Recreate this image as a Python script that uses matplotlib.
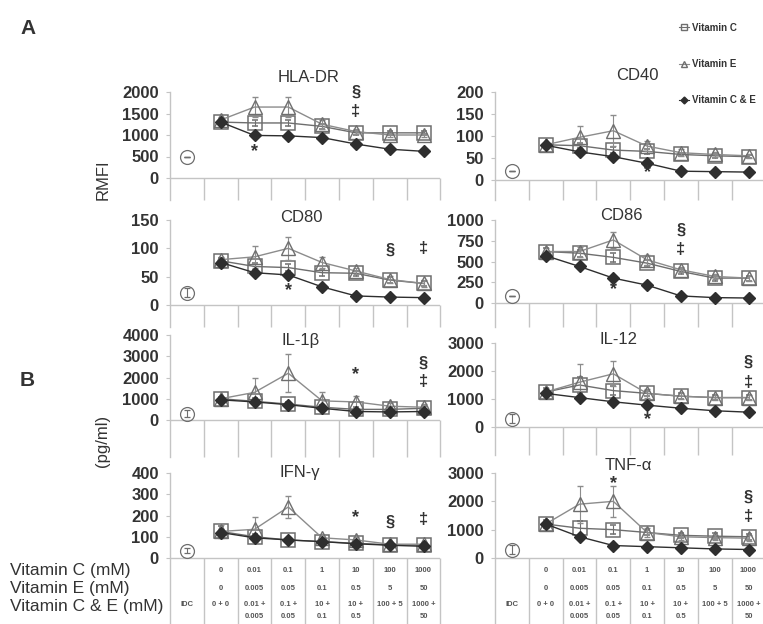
import numpy as np
import matplotlib
matplotlib.use('Agg')
import matplotlib.pyplot as plt
from matplotlib.lines import Line2D

plt.rcParams['font.family'] = ['Liberation Sans', 'DejaVu Sans']

# treatment columns (1..7), IDC control sits in column 0
cols = np.arange(1, 8) + 0.5

# HLA-DR (RMFI)
hla_c = [1300, 1280, 1280, 1200, 1050, 1050, 1050]
hla_c_err = [60, 80, 80, 60, 50, 40, 40]
hla_e = [1350, 1650, 1650, 1250, 1080, 1000, 1000]
hla_e_err = [60, 230, 230, 100, 60, 50, 50]
hla_ce = [1300, 990, 980, 940, 790, 670, 620]
hla_idc = (500, 0)

# CD40
cd40_c = [80, 78, 68, 65, 58, 55, 53]
cd40_c_err = [5, 6, 6, 5, 4, 4, 4]
cd40_e = [80, 97, 112, 77, 62, 58, 55]
cd40_e_err = [5, 25, 35, 12, 8, 6, 5]
cd40_ce = [79, 64, 53, 38, 20, 19, 18]
cd40_idc = (21, 0)

# CD80
cd80_c = [78, 68, 66, 57, 56, 44, 38]
cd80_c_err = [5, 6, 6, 5, 4, 5, 5]
cd80_e = [80, 85, 100, 75, 60, 45, 38]
cd80_e_err = [5, 20, 20, 10, 6, 6, 6]
cd80_ce = [75, 57, 53, 32, 16, 14, 13]
cd80_idc = (22, 8)

# CD86
cd86_c = [620, 600, 550, 480, 380, 300, 300]
cd86_c_err = [40, 40, 50, 40, 30, 30, 30]
cd86_e = [620, 620, 760, 520, 400, 320, 300]
cd86_e_err = [40, 60, 100, 60, 30, 30, 30]
cd86_ce = [570, 440, 300, 215, 85, 65, 60]
cd86_idc = (90, 0)

# IL-1beta (pg/ml)
il1_c = [1000, 880, 750, 600, 500, 500, 550]
il1_c_err = [100, 150, 100, 100, 100, 100, 100]
il1_e = [1000, 1300, 2200, 900, 850, 650, 600]
il1_e_err = [100, 700, 900, 400, 300, 150, 150]
il1_ce = [950, 850, 720, 550, 400, 380, 400]
il1_idc = (300, 150)

# IL-12
il12_c = [1250, 1500, 1300, 1200, 1100, 1050, 1050]
il12_c_err = [150, 300, 150, 100, 100, 100, 100]
il12_e = [1250, 1600, 1900, 1200, 1100, 1050, 1050]
il12_e_err = [150, 650, 450, 150, 100, 100, 100]
il12_ce = [1200, 1050, 900, 780, 670, 580, 530]
il12_idc = (300, 150)

# IFN-gamma
ifn_c = [125, 100, 85, 77, 69, 62, 60]
ifn_c_err = [25, 15, 10, 10, 10, 8, 8]
ifn_e = [125, 135, 240, 95, 85, 65, 65]
ifn_e_err = [30, 60, 50, 15, 15, 10, 10]
ifn_ce = [120, 95, 85, 77, 67, 60, 55]
ifn_idc = (35, 10)

# TNF-alpha
tnf_c = [1200, 1050, 1000, 900, 800, 770, 750]
tnf_c_err = [150, 250, 150, 100, 100, 100, 100]
tnf_e = [1200, 1900, 2000, 900, 750, 720, 700]
tnf_e_err = [150, 650, 550, 150, 100, 100, 100]
tnf_ce = [1200, 750, 440, 400, 360, 320, 300]
tnf_idc = (300, 150)

# significance symbols: (symbol, column, value)
hla_sig = [('*', 2, 605), ('§', 5, 2000), ('‡', 5, 1535)]
cd40_sig = [('*', 4, 16)]
cd80_sig = [('*', 3, 25), ('§', 6, 97), ('‡', 7, 100)]
cd86_sig = [('*', 3, 157), ('§', 5, 880), ('‡', 5, 640)]
il1_sig = [('*', 5, 2115), ('§', 7, 2680), ('‡', 7, 1790)]
il12_sig = [('*', 4, 250), ('§', 7, 2320), ('‡', 7, 1600)]
ifn_sig = [('*', 5, 188), ('§', 6, 170), ('‡', 7, 179)]
tnf_sig = [('*', 3, 2620), ('§', 7, 2150), ('‡', 7, 1450)]

# dose table under the bottom panels
dose_c = ['', '0', '0.01', '0.1', '1', '10', '100', '1000']
dose_e = ['', '0', '0.005', '0.05', '0.1', '0.5', '5', '50']
dose_ce1 = ['IDC', '0 + 0', '0.01 +', '0.1 +', '10 +', '10 +', '100 + 5', '1000 +']
dose_ce2 = ['', '', '0.005', '0.05', '0.1', '0.5', '', '50']

W, H = 763, 624
COLW = 33.8
fig = plt.figure(figsize=(W / 100, H / 100), dpi=100)

GRID = '#c4c4c4'
TXT = '#333333'
C_COL = '#6e6e6e'
E_COL = '#8c8c8c'
CE_COL = '#2e2e2e'


def panel(title, left, top, zero, bottom, ymax, step, title_xy,
          c, c_err, e, e_err, ce, idc, sig):
    ax = fig.add_axes([left / W, 1 - bottom / H, 8 * COLW / W, (bottom - top) / H])
    scale = ymax / (zero - top)
    ymin = -(bottom - zero) * scale
    ax.set_xlim(0, 8)
    ax.set_ylim(ymin, ymax)
    for s in ['top', 'right', 'bottom']:
        ax.spines[s].set_visible(False)
    ax.spines['left'].set_color(GRID)
    ax.spines['left'].set_linewidth(1.0)
    ax.set_xticks([])
    ax.set_yticks(np.arange(0, ymax + 1, step))
    ax.tick_params(axis='y', length=3, width=0.8, color=GRID, pad=5,
                   labelsize=12, labelcolor=TXT)
    for lab in ax.get_yticklabels():
        lab.set_fontweight('bold')
    ax.patch.set_alpha(0)

    ax.axhline(0, color=GRID, lw=1.0, zorder=1)
    ax.vlines(np.arange(1, 9), ymin, 0, color=GRID, lw=1.0, zorder=1, clip_on=False)

    ax.errorbar(cols, c, yerr=c_err, color=C_COL, lw=1.0, marker='s', ms=10.5,
                mfc='none', mec=C_COL, mew=1.1, capsize=2.5, elinewidth=0.8,
                clip_on=False, zorder=3)
    ax.errorbar(cols, e, yerr=e_err, color=E_COL, lw=1.0, marker='^', ms=10,
                mfc='none', mec=C_COL, mew=1.0, capsize=2.5, elinewidth=0.8,
                clip_on=False, zorder=4)
    ax.plot(cols, ce, color=CE_COL, lw=1.0, marker='D', ms=6, mfc=CE_COL,
            mec=CE_COL, clip_on=False, zorder=5)

    ax.errorbar([0.5], [idc[0]], yerr=[idc[1]], color=C_COL, marker='o', ms=10,
                mfc='none', mec=C_COL, mew=0.9, capsize=2.5, elinewidth=0.8,
                clip_on=False, zorder=3)
    if idc[1] == 0:
        ax.plot([0.5], [idc[0]], marker='_', ms=4, color=C_COL, clip_on=False)

    for sym, col, val in sig:
        size = 13 if sym == '*' else 12
        ax.text(col + 0.5, val, sym, ha='center', va='center', fontsize=size,
                color=TXT, fontweight='bold', clip_on=False, zorder=6)

    tx, ty = title_xy
    ax.text(tx, (zero - ty) * scale, title, ha='center', va='center',
            fontsize=12, color=TXT)
    return ax, zero, scale


L, R = 170, 495
panel('HLA-DR', L, 92, 178, 200, 2000, 500, (4.1, 77),
      hla_c, hla_c_err, hla_e, hla_e_err, hla_ce, hla_idc, hla_sig)
panel('CD40', R, 92, 180, 200, 200, 50, (4.2, 76),
      cd40_c, cd40_c_err, cd40_e, cd40_e_err, cd40_ce, cd40_idc, cd40_sig)
panel('CD80', L, 220, 305, 327, 150, 50, (3.9, 217),
      cd80_c, cd80_c_err, cd80_e, cd80_e_err, cd80_ce, cd80_idc, cd80_sig)
panel('CD86', R, 220, 303, 327, 1000, 250, (3.75, 215),
      cd86_c, cd86_c_err, cd86_e, cd86_e_err, cd86_ce, cd86_idc, cd86_sig)
panel('IL-1β', L, 335, 420, 457, 4000, 1000, (3.85, 340),
      il1_c, il1_c_err, il1_e, il1_e_err, il1_ce, il1_idc, il1_sig)
panel('IL-12', R, 343, 427, 455, 3000, 1000, (3.65, 340),
      il12_c, il12_c_err, il12_e, il12_e_err, il12_ce, il12_idc, il12_sig)
bl = panel('IFN-γ', L, 473, 558, 624, 400, 100, (3.85, 473),
           ifn_c, ifn_c_err, ifn_e, ifn_e_err, ifn_ce, ifn_idc, ifn_sig)
br = panel('TNF-α', R, 473, 558, 624, 3000, 1000, (3.95, 466),
           tnf_c, tnf_c_err, tnf_e, tnf_e_err, tnf_ce, tnf_idc, tnf_sig)

# dose table
for ax, zero, scale in (bl, br):
    for i in range(8):
        x = i + 0.5
        for py, lab in ((570, dose_c[i]), (588, dose_e[i]),
                        (605, dose_ce1[i]), (617, dose_ce2[i])):
            if lab:
                ax.text(x, (zero - py) * scale, lab, ha='center', va='center',
                        fontsize=5.5, fontweight='bold', color='#555555',
                        clip_on=False)

for py, lab in ((570, 'Vitamin C (mM)'), (588, 'Vitamin E (mM)'),
                (606, 'Vitamin C & E (mM)')):
    fig.text(10 / W, 1 - py / H, lab, ha='left', va='center', fontsize=12.5,
             color=TXT)

fig.text(103 / W, 1 - 180 / H, 'RMFI', rotation=90, ha='center', va='center',
         fontsize=12, color=TXT)
fig.text(103 / W, 1 - 441 / H, '(pg/ml)', rotation=90, ha='center', va='center',
         fontsize=12, color=TXT)
fig.text(20 / W, 1 - 28 / H, 'A', ha='left', va='center', fontsize=15,
         fontweight='bold', color=TXT)
fig.text(20 / W, 1 - 380 / H, 'B', ha='left', va='center', fontsize=15,
         fontweight='bold', color=TXT)

handles = [
    Line2D([], [], color=C_COL, lw=0.8, marker='s', ms=5, mfc='none', mec=C_COL),
    Line2D([], [], color=E_COL, lw=0.8, marker='^', ms=5, mfc='none', mec=C_COL),
    Line2D([], [], color=CE_COL, lw=0.8, marker='D', ms=3.5, mfc=CE_COL, mec=CE_COL),
]
fig.legend(handles, ['Vitamin C', 'Vitamin E', 'Vitamin C & E'],
           loc='upper left', bbox_to_anchor=(670 / W, 1 - 14 / H),
           frameon=False, prop={'size': 7, 'weight': 'bold'},
           labelspacing=2.7, handlelength=1.1, handletextpad=0.3,
           labelcolor=TXT)

fig.savefig('out.png', dpi=100)
